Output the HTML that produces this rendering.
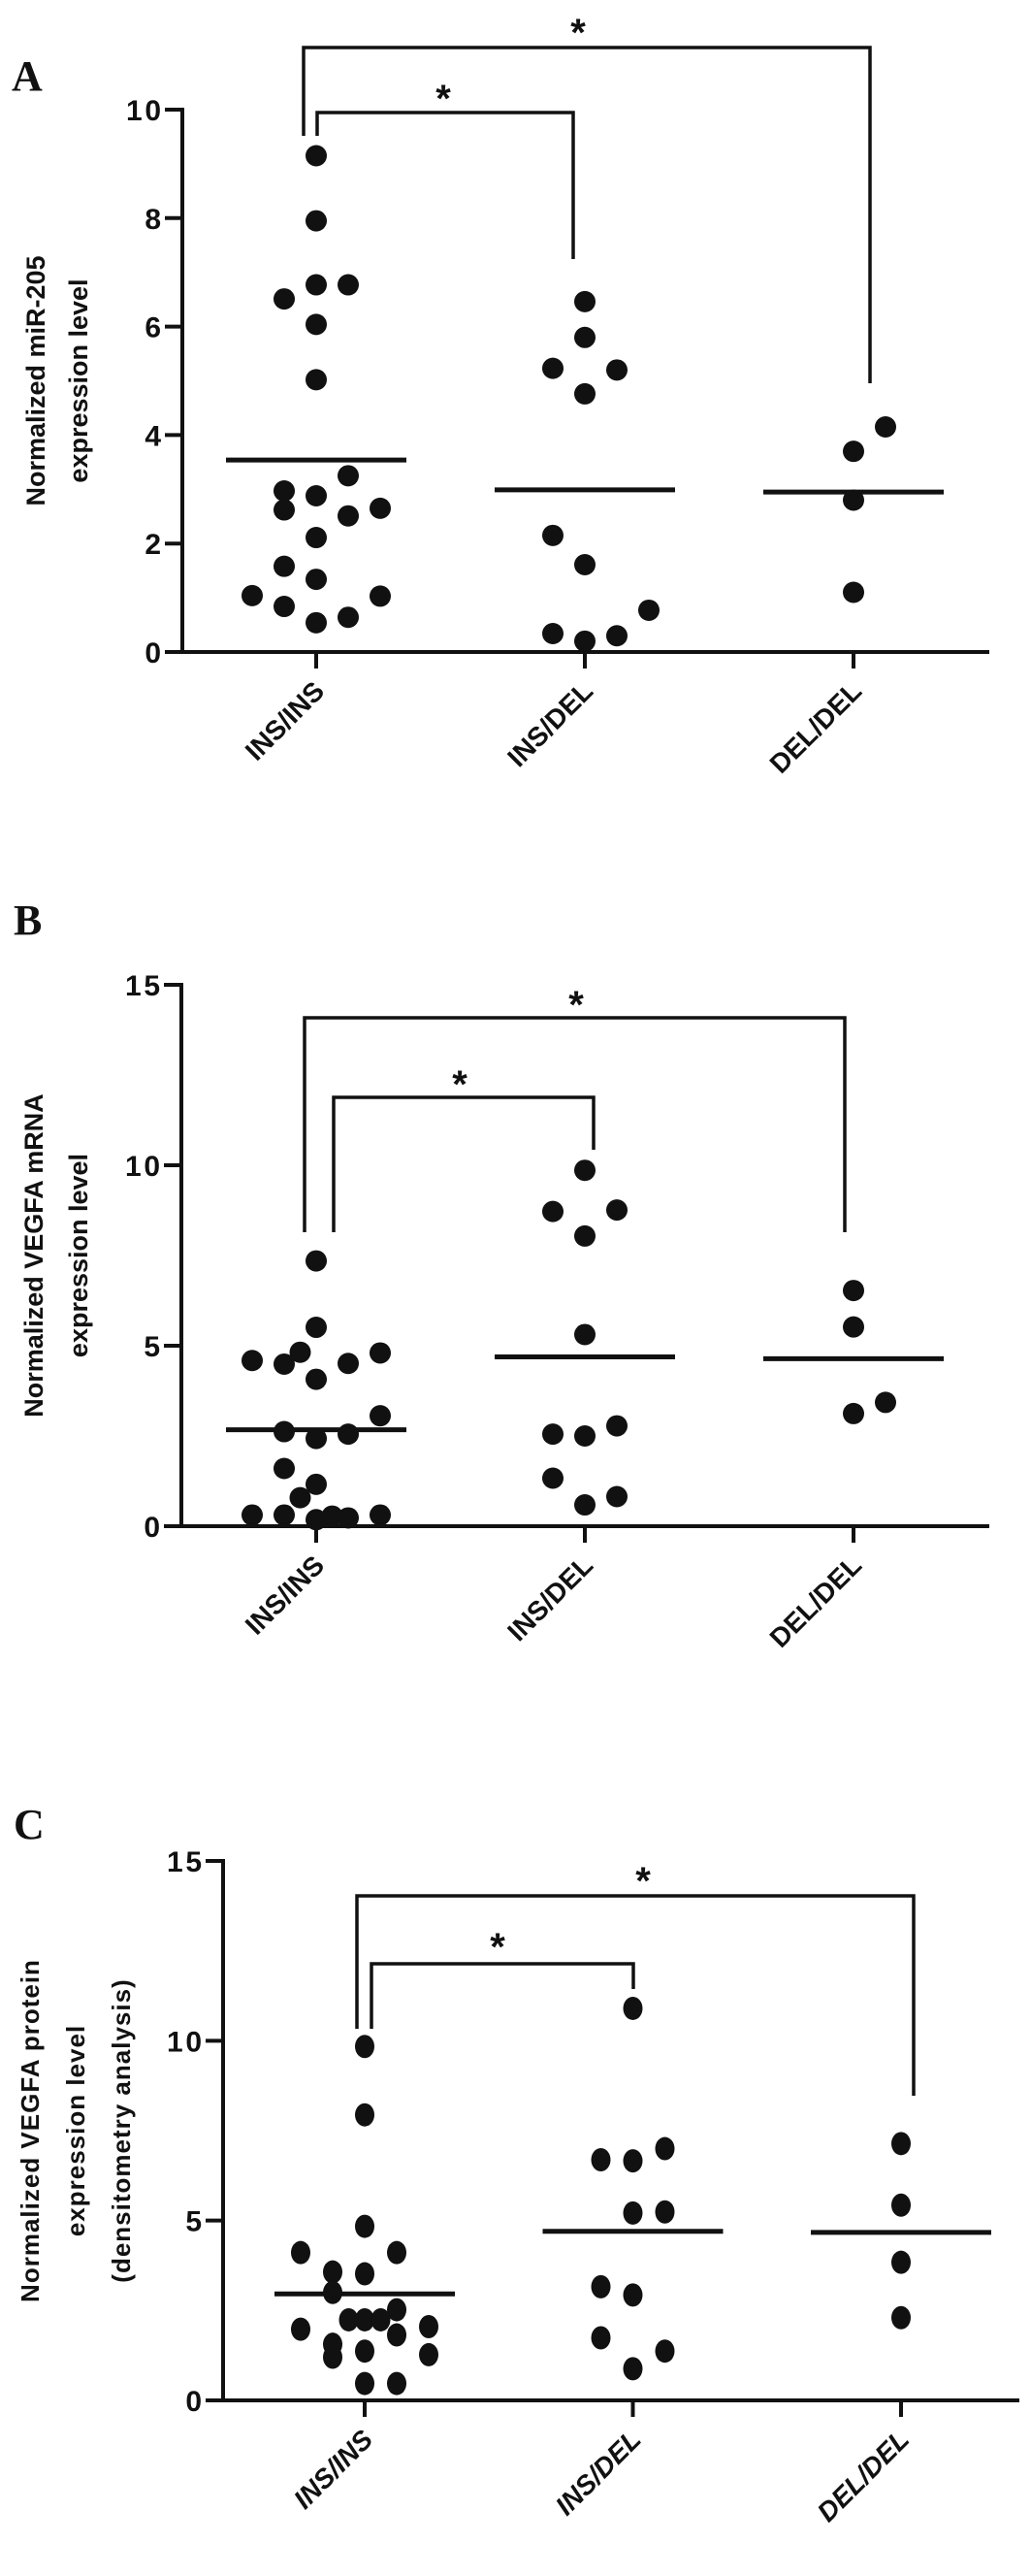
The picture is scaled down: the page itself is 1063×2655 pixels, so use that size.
<!DOCTYPE html>
<html><head><meta charset="utf-8"><style>
html,body{margin:0;padding:0;background:#fff;}
svg{display:block;}
text{font-family:"Liberation Sans",Arial,sans-serif;font-weight:bold;fill:#111;}
</style></head><body>
<svg id="fig" width="1063" height="2655" viewBox="0 0 1063 2655" xmlns="http://www.w3.org/2000/svg"></svg>
<script>
// ---------- data ----------
const categories = ["INS/INS", "INS/DEL", "DEL/DEL"];

// Panel A: miR-205
const aTicks = [0, 2, 4, 6, 8, 10];
const aInsIns = [9.15,7.95,6.77,6.77,6.51,6.04,5.02,3.25,2.97,2.88,2.62,2.51,2.65,2.11,1.58,1.34,1.04,1.03,0.84,0.54,0.64];
const aInsInsJit = [0,0,0,1,-1,0,0,1,-1,0,-1,1,2,0,-1,0,-2,2,-1,0,1];
const aInsDel = [6.46,5.80,5.23,5.20,4.76,2.15,1.61,0.77,0.34,0.20,0.30];
const aInsDelJit = [0,0,-1,1,0,-1,0,2,-1,0,1];
const aDelDel = [4.15,3.70,2.80,1.10];
const aDelDelJit = [1,0,0,0];
const aMeans = [3.54, 2.99, 2.95];

// Panel B: VEGFA mRNA
const bTicks = [0, 5, 10, 15];
const bInsIns = [7.35,5.51,4.59,4.49,4.82,4.51,4.80,4.07,3.06,2.62,2.43,2.55,1.60,1.16,0.79,0.31,0.31,0.18,0.28,0.23,0.31];
const bInsInsJit = [0,0,-2,-1,-0.5,1,2,0,2,-1,0,1,-1,0,-0.5,-2,-1,0,0.5,1,2];
const bInsDel = [9.86,8.72,8.76,8.04,5.31,2.78,2.55,2.50,1.33,0.82,0.59];
const bInsDelJit = [0,-1,1,0,0,1,-1,0,-1,1,0];
const bDelDel = [6.53,5.52,3.43,3.12];
const bDelDelJit = [0,0,1,0];
const bMeans = [2.67, 4.69, 4.64];

// Panel C: VEGFA protein
const cTicks = [0, 5, 10, 15];
const cInsIns = [9.84,7.94,4.84,4.11,4.11,3.57,3.52,3.00,2.52,2.24,2.24,2.24,1.98,2.05,1.82,1.56,1.20,1.37,1.27,0.47,0.47];
const cInsInsJit = [0,0,0,-2,1,-1,0,-1,1,-0.5,0,0.5,-2,2,1,-1,-1,0,2,0,1];
const cInsDel = [10.9,6.69,6.66,7.0,5.21,5.24,3.16,2.93,1.74,1.37,0.88];
const cInsDelJit = [0,-1,0,1,0,1,-1,0,-1,1,0];
const cDelDel = [7.14,5.43,3.84,2.30];
const cDelDelJit = [0,0,0,0];
const cMeans = [2.96, 4.70, 4.67];

// ---------- drawing ----------
const NS = "http://www.w3.org/2000/svg";
const svg = document.getElementById("fig");
function mk(tag, attrs, parent) {
  const e = document.createElementNS(NS, tag);
  for (const k in attrs) e.setAttribute(k, attrs[k]);
  (parent || svg).appendChild(e);
  return e;
}

function drawPanel(p) {
  const g = mk("g", {});
  
  
  const yS = v => p.y0 - (v / p.yMax) * (p.y0 - p.yTop);
  const xS = i => p.cx0 + i * p.step;

  const L = mk("text", {x: p.letterX, y: p.letterY, style: "font-family:'Liberation Serif',serif;font-size:44px;font-weight:bold"}, g);
  L.textContent = p.id;
  
  

  const ax = mk("line", {x1: p.x0, y1: p.yTop - 2, x2: p.x0, y2: p.y0 + 2, stroke: "#111", "stroke-width": 4}, g);
  
  
  p.ticks.forEach(t => {
    const y = yS(t);
    const tl = mk("line", {x1: p.x0 - 18, y1: y, x2: p.x0, y2: y, stroke: "#111", "stroke-width": 4}, g);
    
    
    const tx = mk("text", {x: p.x0 - 22, y: y + 11, "text-anchor": "end", "font-size": 30, textLength: String(t).length > 1 ? 36 : 18}, g);
    tx.textContent = t;
    
    
  });
  const xa = mk("line", {x1: p.x0 - 18, y1: p.y0, x2: p.x1, y2: p.y0, stroke: "#111", "stroke-width": 4}, g);
  
  
  categories.forEach((c, i) => {
    const x = xS(i);
    const tk = mk("line", {x1: x, y1: p.y0, x2: x, y2: p.y0 + 17, stroke: "#111", "stroke-width": 4}, g);
    
    
    const lx = x + 10, ly = p.y0 + 42;
    const t = mk("text", {x: lx, y: ly, "text-anchor": "end", "font-size": 28, transform: `rotate(-45 ${lx} ${ly})`, "font-style": p.italic ? "italic" : "normal"}, g);
    t.textContent = c;
    
    
  });

  const tcx = p.titleX, tcy = (p.yTop + p.y0) / 2;
  p.title.forEach((line, k) => {
    const x = tcx + k * p.titleGap;
    const t = mk("text", {x: x, y: tcy, "text-anchor": "middle", "font-size": p.titleSize, transform: `rotate(-90 ${x} ${tcy})`, "letter-spacing": p.titleLS}, g);
    t.textContent = line;
    
    
  });

  p.series.forEach((s, i) => {
    s.vals.forEach((v, j) => {
      const d = mk("ellipse", {cx: xS(i) + s.jit[j] * p.jstep, cy: yS(v), rx: p.rx, ry: p.ry, fill: "#111"}, g);
      
      
    });
  });
  p.means.forEach((m, i) => {
    const y = yS(m);
    const l = mk("line", {x1: xS(i) - 93, y1: y, x2: xS(i) + 93, y2: y, stroke: "#111", "stroke-width": 5}, g);
    
    
  });
  p.brackets.forEach(b => {
    const pl = mk("polyline", {points: `${b.x1},${b.yl} ${b.x1},${b.top} ${b.x2},${b.top} ${b.x2},${b.yr}`, fill: "none", stroke: "#111", "stroke-width": 3.5}, g);
    
    
    const st = mk("text", {x: b.sx, y: b.sy + 22, "text-anchor": "middle", "font-size": 40}, g);
    st.textContent = "*";
    
    
  });
}

drawPanel({
  id: "A", letterX: 12, letterY: 93, x0: 188, x1: 1020, y0: 672, yTop: 113, yMax: 10,
  ticks: aTicks, cx0: 326, step: 277, jstep: 33, rx: 11, ry: 11,
  title: ["Normalized miR-205", "expression level"], titleX: 46, titleGap: 44, titleSize: 27, titleLS: 0,
  series: [{vals: aInsIns, jit: aInsInsJit}, {vals: aInsDel, jit: aInsDelJit}, {vals: aDelDel, jit: aDelDelJit}],
  means: aMeans,
  brackets: [
    {x1: 313, x2: 897, top: 49, yl: 140, yr: 395, sx: 596, sy: 25},
    {x1: 327, x2: 591, top: 116, yl: 140, yr: 267, sx: 457, sy: 93}
  ]
});
drawPanel({
  id: "B", letterX: 14, letterY: 963, x0: 187, x1: 1020, y0: 1573, yTop: 1015, yMax: 15,
  ticks: bTicks, cx0: 326, step: 277, jstep: 33, rx: 11, ry: 11,
  title: ["Normalized VEGFA mRNA", "expression level"], titleX: 44, titleGap: 46, titleSize: 27, titleLS: 0,
  series: [{vals: bInsIns, jit: bInsInsJit}, {vals: bInsDel, jit: bInsDelJit}, {vals: bDelDel, jit: bDelDelJit}],
  means: bMeans,
  brackets: [
    {x1: 314, x2: 871, top: 1049, yl: 1270, yr: 1270, sx: 594, sy: 1027},
    {x1: 344, x2: 612, top: 1131, yl: 1270, yr: 1185, sx: 474, sy: 1109}
  ]
});
drawPanel({
  id: "C", letterX: 14, letterY: 1895, x0: 230, x1: 1051, y0: 2474, yTop: 1918, yMax: 15,
  ticks: cTicks, cx0: 376, step: 276.5, jstep: 33, rx: 10, ry: 12, italic: true,
  title: ["Normalized VEGFA protein", "expression level", "(densitometry analysis)"], titleX: 40, titleGap: 47, titleSize: 26, titleLS: 1,
  series: [{vals: cInsIns, jit: cInsInsJit}, {vals: cInsDel, jit: cInsDelJit}, {vals: cDelDel, jit: cDelDelJit}],
  means: cMeans,
  brackets: [
    {x1: 368, x2: 942, top: 1954, yl: 2091, yr: 2160, sx: 663, sy: 1930},
    {x1: 383, x2: 653, top: 2024, yl: 2091, yr: 2050, sx: 513, sy: 1998}
  ]
});
</script>
</body></html>
